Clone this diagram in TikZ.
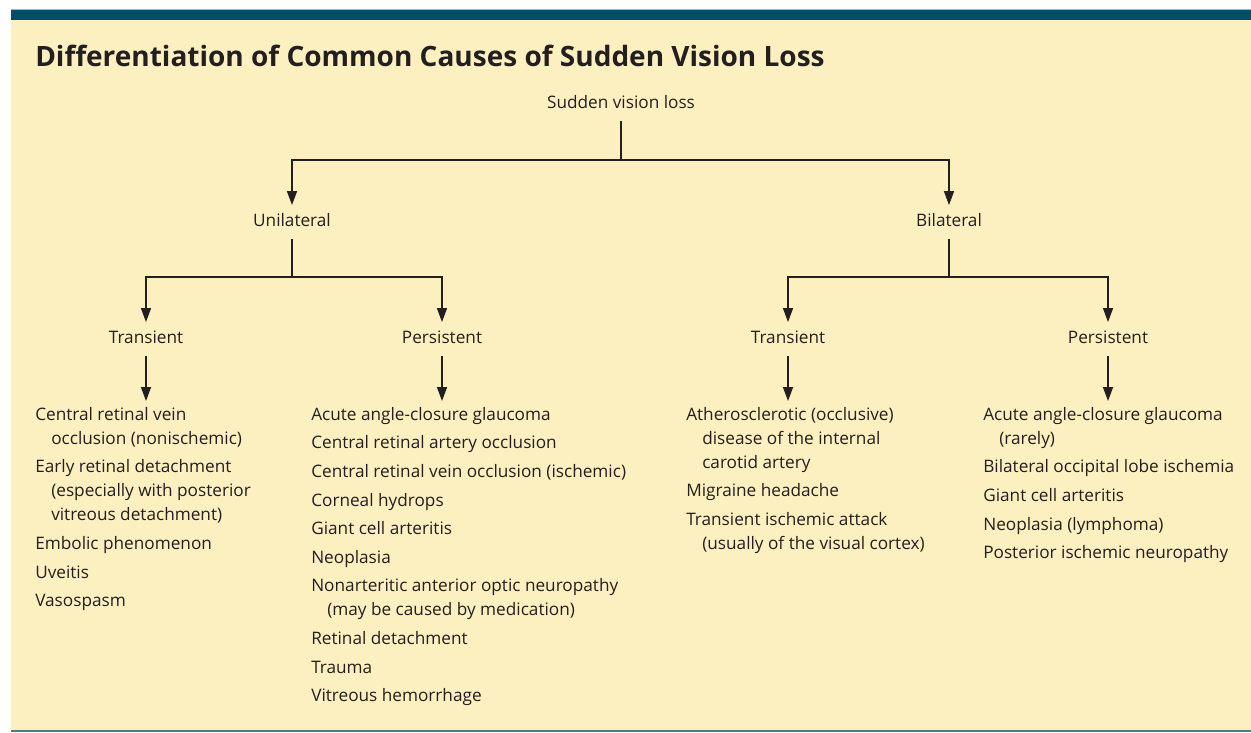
\documentclass[tikz,border=0pt]{standalone}
\usepackage{fontspec}
\setmainfont{Open Sans}
\usetikzlibrary{arrows.meta}
\definecolor{panel}{HTML}{FDF0C0}
\definecolor{bar}{HTML}{044C6B}
\definecolor{ink}{HTML}{231F20}
\definecolor{edge}{HTML}{4F7B7E}
\newcommand{\indt}{\hspace*{12pt}}
\newcommand{\itemgap}{\\[3.45pt]}
\begin{document}
\begin{tikzpicture}[x=0.75pt,y=-0.75pt,
 lbl/.style={font=\fontsize{12.9}{18}\selectfont, text=ink},
 tree/.style={lbl, text height=9pt, text depth=3pt, inner xsep=0pt, inner ysep=6.5pt},
 lst/.style={lbl, align=left, anchor=north west, inner xsep=0pt, inner ysep=4.5pt},
 conn/.style={draw=ink, line width=1.1pt},
 arr/.style={conn, -{Triangle[width=7.5pt,length=10.5pt]}}]
\useasboundingbox (0,0) rectangle (1251,732);
\fill[white] (0,0) rectangle (1251,732);
\fill[panel] (11,20) rectangle (1251,731);
\fill[bar] (11,10) rectangle (1251,20);
\draw[gray!60, line width=0.5pt] (11,9.6) -- (1251,9.6);
\draw[edge, line width=0.9pt] (11,731) -- (1251,731);

\node[anchor=base west, inner sep=0pt, font=\fontsize{21}{25}\selectfont\bfseries, text=ink] (title) at (35,66) {Differentiation of Common Causes of Sudden Vision Loss};

\node[tree] (root) at (621,104) {Sudden vision loss};
\node[tree] (uni) at (292,222) {Unilateral};
\node[tree] (bil) at (949,222) {Bilateral};
\node[tree] (ut) at (146,339) {Transient};
\node[tree] (up) at (442,339) {Persistent};
\node[tree] (bt) at (788,339) {Transient};
\node[tree] (bp) at (1108,339) {Persistent};

\coordinate (j0) at (621,160);
\coordinate (j1) at (292,277);
\coordinate (j2) at (949,277);

\draw[conn] (root.south) -- (j0);
\draw[arr] (j0) -| (uni.north);
\draw[arr] (j0) -| (bil.north);
\draw[conn] (uni.south) -- (j1);
\draw[arr] (j1) -| (ut.north);
\draw[arr] (j1) -| (up.north);
\draw[conn] (bil.south) -- (j2);
\draw[arr] (j2) -| (bt.north);
\draw[arr] (j2) -| (bp.north);

\node[lst] (l1) at (35,401) {Central retinal vein\\
\indt occlusion (nonischemic)\itemgap
Early retinal detachment\\
\indt (especially with posterior\\
\indt vitreous detachment)\itemgap
Embolic phenomenon\itemgap
Uveitis\itemgap
Vasospasm};

\node[lst] (l2) at (311,401) {Acute angle-closure glaucoma\itemgap
Central retinal artery occlusion\itemgap
Central retinal vein occlusion (ischemic)\itemgap
Corneal hydrops\itemgap
Giant cell arteritis\itemgap
Neoplasia\itemgap
Nonarteritic anterior optic neuropathy\\
\indt (may be caused by medication)\itemgap
Retinal detachment\itemgap
Trauma\itemgap
Vitreous hemorrhage};

\node[lst] (l3) at (686,401) {Atherosclerotic (occlusive)\\
\indt disease of the internal\\
\indt carotid artery\itemgap
Migraine headache\itemgap
Transient ischemic attack\\
\indt (usually of the visual cortex)};

\node[lst] (l4) at (983,401) {Acute angle-closure glaucoma\\
\indt (rarely)\itemgap
Bilateral occipital lobe ischemia\itemgap
Giant cell arteritis\itemgap
Neoplasia (lymphoma)\itemgap
Posterior ischemic neuropathy};

\draw[arr] (ut.south) -- (ut.south |- l1.north);
\draw[arr] (up.south) -- (up.south |- l2.north);
\draw[arr] (bt.south) -- (bt.south |- l3.north);
\draw[arr] (bp.south) -- (bp.south |- l4.north);
\end{tikzpicture}
\end{document}
